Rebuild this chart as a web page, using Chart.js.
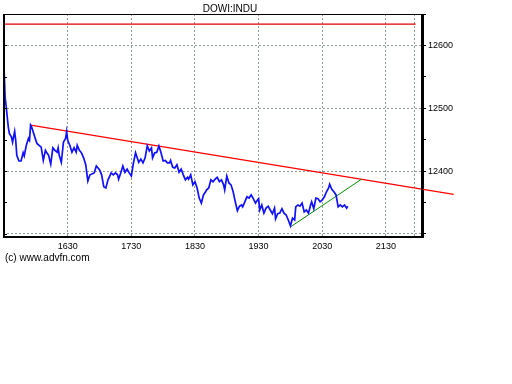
<!DOCTYPE html>
<html>
<head>
<meta charset="utf-8">
<script src="https://cdn.jsdelivr.net/npm/chart.js@4/dist/chart.umd.min.js"></script>
<style>
  html, body { margin: 0; padding: 0; background: #fff; }
  canvas { display: block; }
</style>
</head>
<body>
<canvas id="c" width="512" height="384"></canvas>
<script>
// Minutes since 15:30 (market open) for each price sample
const times = [
  0,1,2,3,4,5,7,8,10,11,
  12,14,16,18,19,21,23,24,25,26,
  27,29,31,33,35,37,39,40,42,44,
  46,48,50,51,52,54,56,58,59,60,
  62,64,66,68,69,71,73,74,75,77,
  79,81,85,87,90,92,94,96,98,101,
  103,105,107,108,110,112,114,116,118,120,
  122,124,125,127,129,131,133,135,137,139,
  140,142,144,146,148,150,152,154,156,157,
  159,161,163,165,167,169,171,173,174,176,
  178,180,182,184,186,188,190,191,193,195,
  197,199,201,203,205,207,208,210,212,214,
  216,218,220,222,224,225,227,229,231,233,
  235,237,239,240,241,243,245,247,249,251,
  253,255,256,258,260,262,264,266,268,270,
  272,274,275,277,279,281,283,285,287,289,
  290,292,294,296,298,300,302,304,306,307,
  309,311,313,315,317,319,321,323,324
];
// DOWI:INDU index level
const values = [
  12563,12517,12503,12486,12470,12460,12454,12446,12463,12449,
  12425,12416,12416,12429,12424,12441,12452,12449,12473,12470,
  12465,12454,12444,12441,12438,12417,12433,12430,12425,12411,
  12437,12433,12430,12437,12425,12414,12446,12452,12463,12449,
  12441,12430,12437,12430,12441,12433,12429,12425,12421,12410,
  12384,12394,12397,12408,12402,12394,12375,12373,12386,12397,
  12394,12397,12394,12387,12397,12408,12398,12403,12397,12392,
  12413,12429,12424,12414,12419,12413,12421,12440,12432,12437,
  12421,12429,12430,12440,12429,12416,12417,12413,12413,12417,
  12406,12405,12410,12398,12403,12394,12386,12390,12387,12394,
  12378,12383,12373,12357,12349,12362,12367,12370,12373,12386,
  12383,12387,12390,12383,12386,12378,12370,12392,12381,12378,
  12367,12351,12337,12344,12346,12343,12351,12359,12357,12362,
  12356,12349,12354,12356,12338,12346,12333,12341,12344,12338,
  12332,12341,12324,12332,12333,12340,12333,12330,12322,12313,
  12325,12322,12343,12346,12344,12349,12335,12338,12333,12346,
  12351,12340,12357,12356,12351,12354,12359,12367,12373,12379,
  12371,12367,12362,12343,12346,12343,12346,12341,12344
];
// Trend lines (minutes, level)
const redTrendX = [25, 424];
const redTrendY = [12473, 12363];
const greenTrendX = [270, 337];
const greenTrendY = [12311, 12387];
// Horizontal reference level
const refLevel = 12634;
const refLevelX = [-1, 388];

// Axis ticks
const xTickValues = [60, 120, 180, 240, 300, 360, 387];
const xTickLabels = ['1630', '1730', '1830', '1930', '2030', '2130', ''];
const yTickValues = [12300, 12350, 12400, 12450, 12500, 12550, 12600, 12650];
const yTickLabels = ['', '', '12400', '', '12500', '', '12600', ''];
const yMajor = [12300, 12400, 12500, 12600];

const title = 'DOWI:INDU';
const credit = '(c) www.advfn.com';

const priceData = times.map((t, i) => ({ x: t, y: values[i] }));
const redData = redTrendX.map((t, i) => ({ x: t, y: redTrendY[i] }));
const greenData = greenTrendX.map((t, i) => ({ x: t, y: greenTrendY[i] }));
const refData = refLevelX.map(t => ({ x: t, y: refLevel }));

const FONT = '"Liberation Sans", Arial, sans-serif';
const gridColor = '#8c9c9c';

const framePlugin = {
  id: 'frame',
  afterDraw(chart) {
    const { ctx, chartArea: a } = chart;
    const ys = chart.scales.y;
    ctx.save();
    ctx.strokeStyle = '#000';
    ctx.setLineDash([]);
    // top (1px)
    ctx.lineWidth = 1;
    ctx.beginPath();
    ctx.moveTo(a.left, a.top + 0.5);
    ctx.lineTo(a.right, a.top + 0.5);
    ctx.stroke();
    // left, right, bottom (2px)
    ctx.lineWidth = 2;
    ctx.beginPath();
    ctx.moveTo(a.left + 1, a.top);
    ctx.lineTo(a.left + 1, a.bottom + 1);
    ctx.moveTo(a.right - 1, a.top);
    ctx.lineTo(a.right - 1, a.bottom + 1);
    ctx.moveTo(a.left, a.bottom);
    ctx.lineTo(a.right, a.bottom);
    ctx.stroke();
    // inner tick marks on left edge
    ctx.lineWidth = 1;
    yTickValues.forEach(v => {
      const y = Math.round(ys.getPixelForValue(v)) + 0.5;
      ctx.beginPath();
      ctx.moveTo(a.left, y);
      ctx.lineTo(a.left + 4, y);
      ctx.stroke();
    });
    ctx.fillStyle = '#000';
    ctx.font = '10px ' + FONT;
    ctx.textBaseline = 'middle';
    ctx.textAlign = 'center';
    ctx.fillText(title, 230, 9);
    ctx.textAlign = 'left';
    ctx.fillText(credit, 5, 258);
    ctx.restore();
  }
};

new Chart(document.getElementById('c'), {
  type: 'line',
  data: {
    datasets: [
      { data: refData, borderColor: '#e00000', borderWidth: 1.2, pointRadius: 0, tension: 0 },
      { data: priceData, borderColor: '#1010ff', borderWidth: 1.7, pointRadius: 0, tension: 0 },
      { data: greenData, borderColor: '#009000', borderWidth: 1, pointRadius: 0, tension: 0 },
      { data: redData, borderColor: '#ff0000', borderWidth: 1.3, pointRadius: 0, tension: 0, clip: false }
    ]
  },
  options: {
    responsive: false,
    animation: false,
    events: [],
    layout: { padding: { left: 3, top: 14, right: 55, bottom: 127 } },
    plugins: { legend: { display: false }, tooltip: { enabled: false }, title: { display: false } },
    scales: {
      x: {
        type: 'linear',
        position: 'bottom',
        min: -1,
        max: 395,
        afterBuildTicks: s => { s.ticks = xTickValues.map(v => ({ value: v })); },
        afterFit: s => { s.height = 20; },
        ticks: {
          autoSkip: false,
          maxRotation: 0,
          padding: 4,
          color: '#000',
          font: { family: FONT, size: 9 },
          callback: (v, i) => xTickLabels[i]
        },
        grid: { color: gridColor, lineWidth: 1, drawTicks: false, tickLength: 0, borderDash: [2, 2] },
        border: { color: '#000', width: 1, dash: [2, 2] }
      },
      y: {
        type: 'linear',
        position: 'right',
        min: 12295,
        max: 12650,
        afterBuildTicks: s => { s.ticks = yTickValues.map(v => ({ value: v })); },
        afterFit: s => { s.width = 34; },
        ticks: {
          padding: 2,
          color: '#000',
          font: { family: FONT, size: 9 },
          callback: (v, i) => yTickLabels[i]
        },
        grid: {
          color: c => (c.tick && yMajor.includes(c.tick.value)) ? gridColor : 'rgba(0,0,0,0)',
          lineWidth: 1,
          tickColor: '#000',
          tickLength: 3,
          borderDash: [2, 2]
        },
        border: { color: '#000', width: 1, dash: [2, 2] }
      }
    }
  },
  plugins: [framePlugin]
});
</script>
</body>
</html>
